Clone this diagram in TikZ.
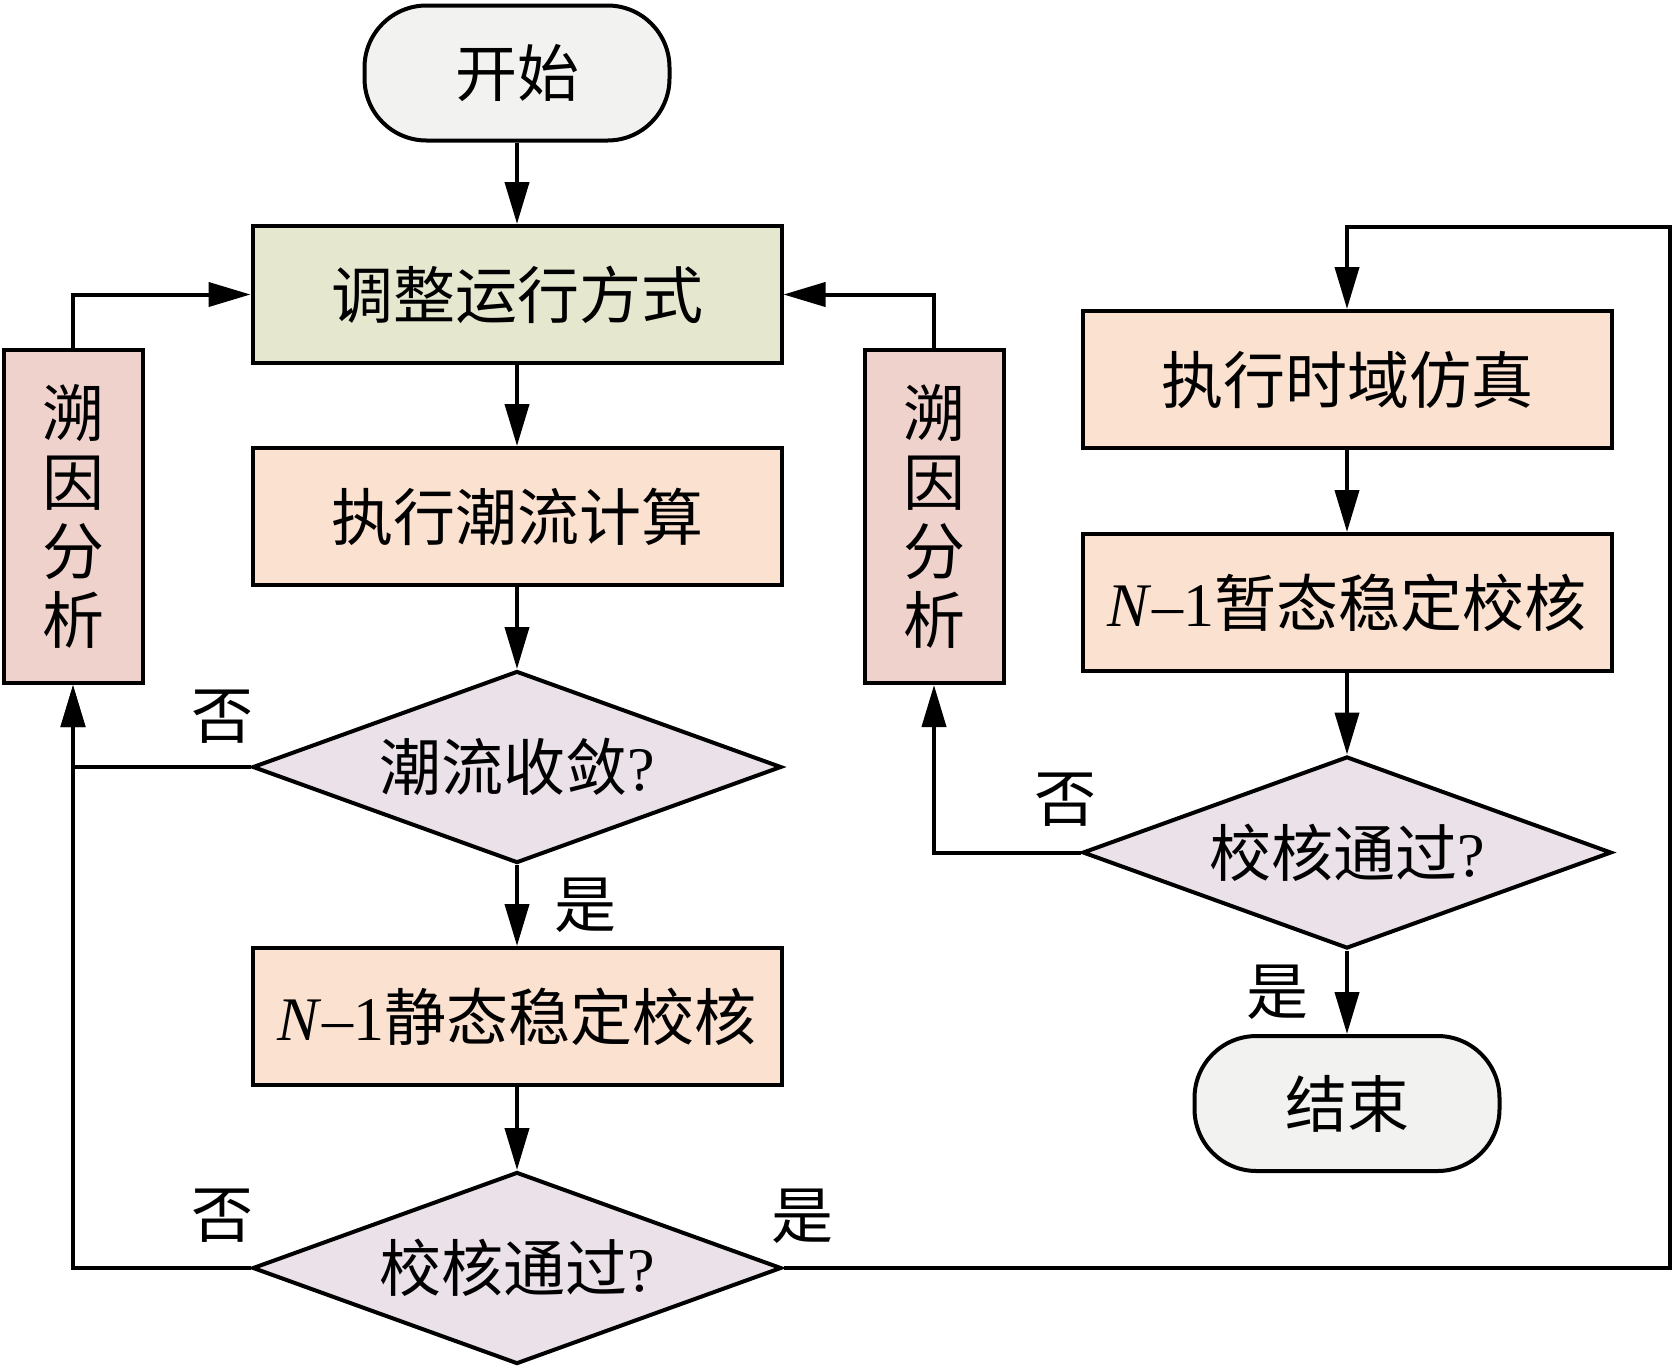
\documentclass[tikz,border=0pt]{standalone}
\usepackage{fontspec}
\setmainfont{Liberation Serif}
\newfontfamily\cjk{Noto Sans CJK SC}
\usepackage{tikz}
\usetikzlibrary{arrows.meta, shapes.geometric}
\definecolor{termfill}{HTML}{F2F2F0}
\definecolor{adjfill}{HTML}{E5E8CF}
\definecolor{procfill}{HTML}{FBE1D0}
\definecolor{tracefill}{HTML}{F0D2CD}
\definecolor{decfill}{HTML}{EAE1E9}
\tikzset{
	txt/.style={font=\cjk\fontsize{62}{69}\selectfont},
	term/.style={txt, draw, line width=4pt, fill=termfill, rounded corners=62pt, minimum width=305pt, minimum height=135pt},
	proc/.style={txt, draw, line width=4pt, fill=procfill, minimum width=529pt, minimum height=137pt, inner sep=0pt},
	trace/.style={txt, draw, line width=4pt, fill=tracefill, minimum width=139pt, minimum height=333pt, align=center, inner sep=0pt},
	dec/.style={txt, draw, line width=4pt, fill=decfill, diamond, aspect=2.7, minimum width=529pt, minimum height=192pt, inner sep=0pt},
	line/.style={line width=4pt},
	arr/.style={line, -{Triangle[length=42pt,width=24pt]}},
	lbl/.style={txt}
}
\begin{document}
\begin{tikzpicture}[x=1pt,y=-1pt]
			\useasboundingbox (0,0) rectangle (1673,1369);
			\node[term] (start) at (517,73) {开始};
			\node[proc, fill=adjfill] (adjust) at (517,294.5) {调整运行方式};
			\node[proc] (flow) at (517,516.5) {执行潮流计算};
			\node[dec] (conv) at (517,767) {潮流收敛\textrm{?}};
			\node[proc] (static) at (517,1016.5) {\textrm{\textit{N}–1}静态稳定校核};
			\node[dec] (check1) at (517,1268) {校核通过\textrm{?}};
			\node[trace] (trace1) at (73,516.5) {溯\\因\\分\\析};
			\node[trace] (trace2) at (934,516.5) {溯\\因\\分\\析};
			\node[proc] (sim) at (1347,379.5) {执行时域仿真};
			\node[proc] (trans) at (1347,602.5) {\textrm{\textit{N}–1}暂态稳定校核};
			\node[dec] (check2) at (1347,852.5) {校核通过\textrm{?}};
			\node[term] (end) at (1347,1103.5) {结束};
			\coordinate (loop) at (1670,227);
			% main column
			\draw[arr] (start) -- (adjust);
			\draw[arr] (adjust) -- (flow);
			\draw[arr] (flow) -- (conv);
			\draw[arr] (conv) -- (static);
			\draw[arr] (static) -- (check1);
			% back to the left
			\draw[arr] (conv.west) -| (trace1.south);
			\draw[arr] (check1.west) -| (trace1.south);
			\draw[arr] (trace1.north) |- (adjust.west);
			\draw[arr] (trace2.north) |- (adjust.east);
			\draw[arr] (check2.west) -| (trace2.south);
			% right column
			\draw[arr] (check1.east) -| (loop) -| (sim.north);
			\draw[arr] (sim) -- (trans);
			\draw[arr] (trans) -- (check2);
			\draw[arr] (check2) -- (end);
			\node[lbl] (no1) at (222,717) {否};
			\node[lbl] (yes1) at (585,905) {是};
			\node[lbl] (no2) at (222,1216) {否};
			\node[lbl] (yes2) at (802,1216) {是};
			\node[lbl] (no3) at (1065,800) {否};
			\node[lbl] (yes3) at (1277,992) {是};
		\end{tikzpicture}
\end{document}
